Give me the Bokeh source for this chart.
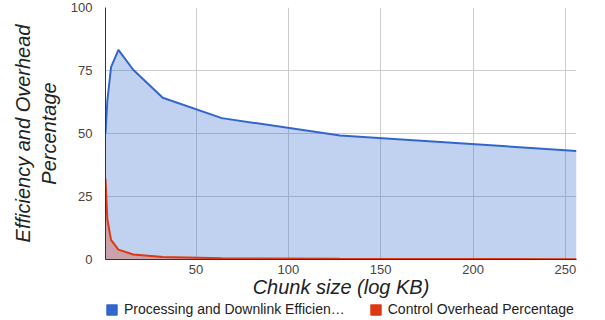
from bokeh.plotting import figure
from bokeh.layouts import column
from bokeh.models import Range1d, FixedTicker, Legend, LegendItem
from bokeh.embed import file_html
from bokeh.resources import INLINE

# ---- data ----
chunk_kb = [1, 2, 4, 8, 16, 32, 64, 128, 256]
efficiency = [50, 63, 76.3, 83.2, 75.3, 64.2, 56.1, 49.2, 43.1]
overhead = [32, 16, 7.8, 3.9, 2.0, 1.0, 0.5, 0.25, 0.12]
x_ticks = [50, 100, 150, 200, 250]
y_ticks = [0, 25, 50, 75, 100]
series_names = ["Processing and Downlink Efficien\u2026", "Control Overhead Percentage"]
x_title = "Chunk size (log KB)"
y_title = "Efficiency and Overhead\nPercentage"

BLUE = "#3366cc"
RED = "#dc3912"
FONT = "Liberation Sans"

p = figure(width=600, output_backend="svg", toolbar_location=None,
           x_range=Range1d(1, 256), y_range=Range1d(0, 100),
           min_border_left=105, min_border_right=24, min_border_top=7, min_border_bottom=42)
p.frame_width = 471
p.frame_height = 252
p.outline_line_color = None
p.background_fill_color = "white"

# grid
p.xgrid.ticker = FixedTicker(ticks=x_ticks)
p.ygrid.ticker = FixedTicker(ticks=y_ticks)
for g in (p.xgrid, p.ygrid):
    g.grid_line_color = "#cccccc"
    g.grid_line_width = 1

# areas
p.varea(x=chunk_kb, y1=0, y2=efficiency, fill_color=BLUE, fill_alpha=0.3)
p.line(x=chunk_kb, y=efficiency, line_color=BLUE, line_width=2)
p.varea(x=chunk_kb, y1=0, y2=overhead, fill_color=RED, fill_alpha=0.3)
p.line(x=chunk_kb, y=overhead, line_color=RED, line_width=2)

# axes
xa = p.xaxis[0]
ya = p.yaxis[0]
xa.ticker = FixedTicker(ticks=x_ticks)
ya.ticker = FixedTicker(ticks=y_ticks)
for ax in (xa, ya):
    ax.major_tick_line_color = None
    ax.minor_tick_line_color = None
    ax.major_tick_out = 0
    ax.major_tick_in = 0
    ax.minor_tick_out = 0
    ax.minor_tick_in = 0
    ax.axis_line_color = "#333333"
    ax.major_label_text_font = FONT
    ax.major_label_text_font_size = "13px"
    ax.major_label_text_color = "#444444"
    ax.axis_label_text_font = FONT
    ax.axis_label_text_font_size = "20px"
    ax.axis_label_text_font_style = "italic"
    ax.axis_label_text_color = "#222222"
xa.axis_label = x_title
ya.axis_label = y_title
ya.axis_label_text_line_height = 1.15
xa.major_label_standoff = 5
xa.axis_label_standoff = -1
ya.major_label_standoff = 13
ya.axis_label_standoff = 8

# legend in its own strip below the chart (frames are aligned by the column)
lg = figure(width=600, height=16, output_backend="svg", toolbar_location=None,
            x_range=Range1d(1, 2), y_range=Range1d(1, 2), min_border=0)
lg.outline_line_color = None
lg.axis.visible = False
lg.grid.visible = False
# swatch-only renderers, kept outside the strip's visible range
r_blue = lg.quad(left=[0], right=[0], top=[0], bottom=[0], fill_color=BLUE, line_color=BLUE)
r_red = lg.quad(left=[0], right=[0], top=[0], bottom=[0], fill_color=RED, line_color=RED)
legend = Legend(items=[LegendItem(label=series_names[0], renderers=[r_blue]),
                       LegendItem(label=series_names[1], renderers=[r_red])],
                orientation="horizontal", location=(0, 0),
                glyph_width=13, glyph_height=13, label_height=16, label_standoff=6, spacing=24,
                padding=0, margin=0, border_line_color=None, background_fill_alpha=0,
                label_text_font=FONT, label_text_font_size="14px", label_text_color="#222222")
lg.add_layout(legend, "center")

layout = column(p, lg, spacing=0)
open("out.html", "w").write(file_html(layout, INLINE))
